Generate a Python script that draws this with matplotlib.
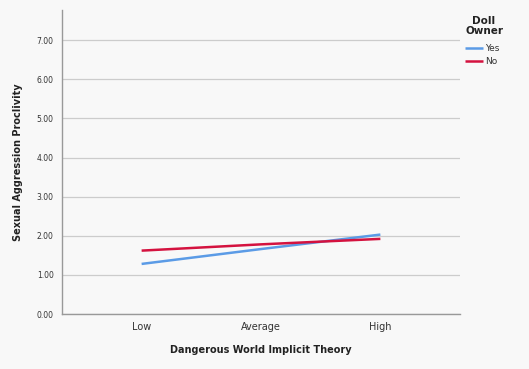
import matplotlib
matplotlib.use("Agg")
import matplotlib.pyplot as plt

categories = ["Low", "Average", "High"]
yes_vals = [1.28, 1.66, 2.03]
no_vals = [1.62, 1.78, 1.92]
yticks = [0, 1, 2, 3, 4, 5, 6, 7]

bg = "#f8f8f8"
fig = plt.figure(figsize=(5.29, 3.69), dpi=100, facecolor=bg)
ax = fig.add_axes([62/529, 1-314/369, (460-62)/529, (314-10)/369], facecolor=bg)

x = list(range(len(categories)))
ax.plot(x, yes_vals, color="#5b9be6", lw=1.8, label="Yes", solid_capstyle="butt")
ax.plot(x, no_vals, color="#d4123f", lw=1.8, label="No", solid_capstyle="butt")

ax.set_xlim(-0.667, 2.667)
ax.set_ylim(0, 7.77)
ax.set_yticks(yticks)
ax.set_yticklabels([f"{v:.2f}" for v in yticks], fontsize=5.5, color="#333333")
ax.set_xticks(x)
ax.set_xticklabels(categories, fontsize=7, color="#333333")
ax.tick_params(axis="both", length=0)
ax.tick_params(axis="y", pad=6)
ax.tick_params(axis="x", pad=6)
ax.yaxis.grid(True, color="#cccccc", lw=0.9)
ax.set_axisbelow(True)
for s in ["top", "right"]:
    ax.spines[s].set_visible(False)
for s in ["left", "bottom"]:
    ax.spines[s].set_color("#999999")
    ax.spines[s].set_linewidth(1.0)

ax.set_ylabel("Sexual Aggression Proclivity", fontsize=7, fontweight="bold", color="#222222", labelpad=10)
ax.set_xlabel("Dangerous World Implicit Theory", fontsize=7, fontweight="bold", color="#222222", labelpad=9)

fig.text(484/529, 1-26/369, "Doll\nOwner", ha="center", va="center", fontsize=7.5,
         fontweight="bold", color="#222222", linespacing=1.0)
leg = fig.legend(loc="upper left", bbox_to_anchor=(463/529, 1-42/369), frameon=False,
                 fontsize=6.5, handlelength=2.0, handletextpad=0.3,
                 labelspacing=0.45, borderaxespad=0.0, borderpad=0.2)
for t in leg.get_texts():
    t.set_color("#333333")

fig.savefig("out.png", dpi=100, facecolor=bg)
